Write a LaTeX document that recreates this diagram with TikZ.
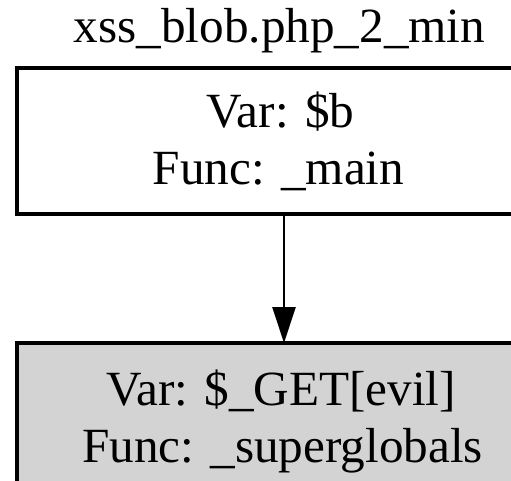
\documentclass[tikz,border=0pt]{standalone}
\usepackage{fontspec}
\setmainfont{Liberation Serif}
\usetikzlibrary{arrows.meta}
\definecolor{graphgray}{HTML}{D3D3D3}
\tikzset{
  varbox/.style={draw=black, line width=3.2pt, rectangle, inner sep=0pt, outer sep=0pt,
                 minimum width=534pt},
  srcbox/.style={varbox, fill=graphgray},
  txt/.style={anchor=base, inner sep=0pt, font=\fontsize{49.2}{57}\selectfont},
  flow/.style={line width=2.6pt, -{Triangle[length=36pt, width=23pt]}}
}
\begin{document}
\begin{tikzpicture}[x=1pt, y=-1pt]
  \useasboundingbox (0,0) rectangle (511,481);
  \clip (0,0) rectangle (511,481);
  \fill[white] (0,0) rectangle (511,481);

  % graph title
  \node[txt] (title) at (279.5,43) {xss\_blob.php\_2\_min};

  % variable nodes
  \node[varbox, minimum height=146pt] (b) at (284,141) {};
  \node[srcbox, minimum height=300pt] (get) at (284,493) {};

  \node[txt] (bvar)  at (280.5,128) {Var: \$b};
  \node[txt] (bfunc) at (278.5,185) {Func: \_main};
  \node[txt] (gvar)  at (281,405) {Var: \$\_GET[evil]};
  \node[txt] (gfunc) at (282.5,462) {Func: \_superglobals};

  % data flow edge
  \draw[flow] (b.south) -- (get.north);
\end{tikzpicture}
\end{document}
